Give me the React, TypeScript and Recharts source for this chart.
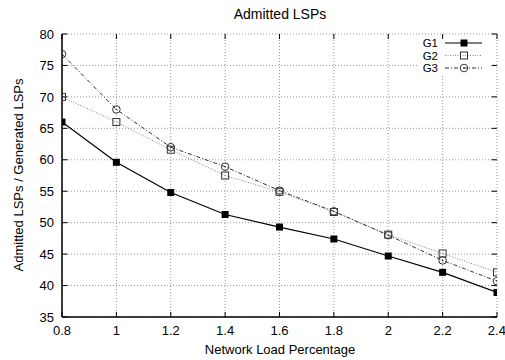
import React from "react";
import { LineChart, Line, XAxis, YAxis, CartesianGrid, ReferenceLine } from "recharts";

const loads = [0.8, 1.0, 1.2, 1.4, 1.6, 1.8, 2.0, 2.2, 2.4];
const g1 = [66.0, 59.6, 54.8, 51.3, 49.3, 47.4, 44.7, 42.1, 38.9];
const g2 = [70.0, 66.0, 61.6, 57.5, 54.9, 51.7, 48.1, 45.1, 42.1];
const g3 = [76.8, 68.0, 62.0, 58.9, 55.1, 51.8, 48.0, 44.0, 40.7];
const xTicks = [0.8, 1.0, 1.2, 1.4, 1.6, 1.8, 2.0, 2.2, 2.4];
const yTicks = [35, 40, 45, 50, 55, 60, 65, 70, 75, 80];
const seriesNames = ["G1", "G2", "G3"];

const data = loads.map((x, i) => ({ x, g1: g1[i], g2: g2[i], g3: g3[i] }));

const FONT = "'Liberation Sans', Arial, sans-serif";
const X_MIN = 0.8, X_MAX = 2.4, Y_MIN = 35, Y_MAX = 80;
const X_TICK_LEN = 0.02; // inward tick length in x data units
const Y_TICK_LEN = 0.8; // inward tick length in y data units

const FilledSquare = (p: any) => {
  const { cx, cy } = p;
  if (cx == null || cy == null) return null;
  return <rect x={cx - 3.5} y={cy - 3.5} width={7} height={7} fill="#000" />;
};
const OpenSquare = (p: any) => {
  const { cx, cy } = p;
  if (cx == null || cy == null) return null;
  return <rect x={cx - 3.5} y={cy - 3.5} width={7} height={7} fill="none" stroke="#333" strokeWidth={1} />;
};
const OpenCircle = (p: any) => {
  const { cx, cy } = p;
  if (cx == null || cy == null) return null;
  return (
    <g>
      <circle cx={cx} cy={cy} r={3.8} fill="none" stroke="#333" strokeWidth={1} />
      <circle cx={cx} cy={cy} r={0.8} fill="#333" />
    </g>
  );
};

const LegendBlock = () => {
  const rows = [43, 55.5, 68];
  return (
    <g>
      <rect x={418} y={36} width={74} height={40} fill="#fff" />
      {seriesNames.map((n, i) => (
        <text key={n} x={438} y={rows[i] + 4.2} textAnchor="end" fontFamily={FONT} fontSize={11.5} fill="#000">
          {n}
        </text>
      ))}
      <line x1={445} y1={rows[0]} x2={482} y2={rows[0]} stroke="#000" strokeWidth={1.2} />
      <FilledSquare cx={464} cy={rows[0]} />
      <line x1={445} y1={rows[1]} x2={482} y2={rows[1]} stroke="#888" strokeWidth={1} strokeDasharray="1 1.5" />
      <OpenSquare cx={464} cy={rows[1]} />
      <line x1={445} y1={rows[2]} x2={482} y2={rows[2]} stroke="#333" strokeWidth={1} strokeDasharray="4 2 1 2" />
      <OpenCircle cx={464} cy={rows[2]} />
    </g>
  );
};

export default function App() {
  return (
    <div style={{ position: "absolute", left: 0, top: 0, width: 505, height: 360, background: "#fff" }}>
      <LineChart
        width={505}
        height={360}
        data={data}
        margin={{ top: 34, right: 8, bottom: 13, left: 0 }}
      >
        <text x={280} y={19} textAnchor="middle" fontFamily={FONT} fontSize={14} fill="#000">
          Admitted LSPs
        </text>
        <text x={280} y={354} textAnchor="middle" fontFamily={FONT} fontSize={13} fill="#000">
          Network Load Percentage
        </text>
        <text
          x={23}
          y={175}
          textAnchor="middle"
          transform="rotate(-90 23 175)"
          fontFamily={FONT}
          fontSize={13}
          fill="#000"
        >
          Admitted LSPs / Generated LSPs
        </text>
        <CartesianGrid stroke="#999" strokeDasharray="1 2" vertical horizontal />
        <XAxis
          dataKey="x"
          type="number"
          domain={[X_MIN, X_MAX]}
          ticks={xTicks}
          height={30}
          tickFormatter={(v: number) => String(Math.round(v * 10) / 10)}
          axisLine={{ stroke: "#000", strokeWidth: 1.5 }}
          tickLine={false}
          tick={{ fill: "#000", fontSize: 13, fontFamily: FONT }}
          tickMargin={3}
          allowDataOverflow
        />
        <XAxis xAxisId="top" orientation="top" dataKey="x" type="number" domain={[X_MIN, X_MAX]} tick={false} tickLine={false} axisLine={{ stroke: "#000", strokeWidth: 1.5 }} height={0} />
        <YAxis
          type="number"
          domain={[Y_MIN, Y_MAX]}
          ticks={yTicks}
          width={62}
          axisLine={{ stroke: "#000", strokeWidth: 1.5 }}
          tickLine={false}
          tick={{ fill: "#000", fontSize: 13, fontFamily: FONT }}
          tickMargin={2}
        />
        <YAxis yAxisId="right" orientation="right" domain={[Y_MIN, Y_MAX]} tick={false} tickLine={false} axisLine={{ stroke: "#000", strokeWidth: 1.5 }} width={0} />
        {xTicks.map((t) => (
          <ReferenceLine key={"xb" + t} segment={[{ x: t, y: Y_MIN }, { x: t, y: Y_MIN + Y_TICK_LEN }]} stroke="#000" strokeWidth={1} ifOverflow="visible" />
        ))}
        {xTicks.map((t) => (
          <ReferenceLine key={"xt" + t} segment={[{ x: t, y: Y_MAX }, { x: t, y: Y_MAX - Y_TICK_LEN }]} stroke="#000" strokeWidth={1} ifOverflow="visible" />
        ))}
        {yTicks.map((t) => (
          <ReferenceLine key={"yl" + t} segment={[{ x: X_MIN, y: t }, { x: X_MIN + X_TICK_LEN, y: t }]} stroke="#000" strokeWidth={1} ifOverflow="visible" />
        ))}
        {yTicks.map((t) => (
          <ReferenceLine key={"yr" + t} segment={[{ x: X_MAX, y: t }, { x: X_MAX - X_TICK_LEN, y: t }]} stroke="#000" strokeWidth={1} ifOverflow="visible" />
        ))}
        <Line dataKey="g1" name="G1" stroke="#000" strokeWidth={1.2} dot={<FilledSquare />} isAnimationActive={false} />
        <Line dataKey="g2" name="G2" stroke="#888" strokeWidth={1} strokeDasharray="1 1.5" dot={<OpenSquare />} isAnimationActive={false} />
        <Line dataKey="g3" name="G3" stroke="#333" strokeWidth={1} strokeDasharray="4 2 1 2" dot={<OpenCircle />} isAnimationActive={false} />
        <LegendBlock />
      </LineChart>
    </div>
  );
}
